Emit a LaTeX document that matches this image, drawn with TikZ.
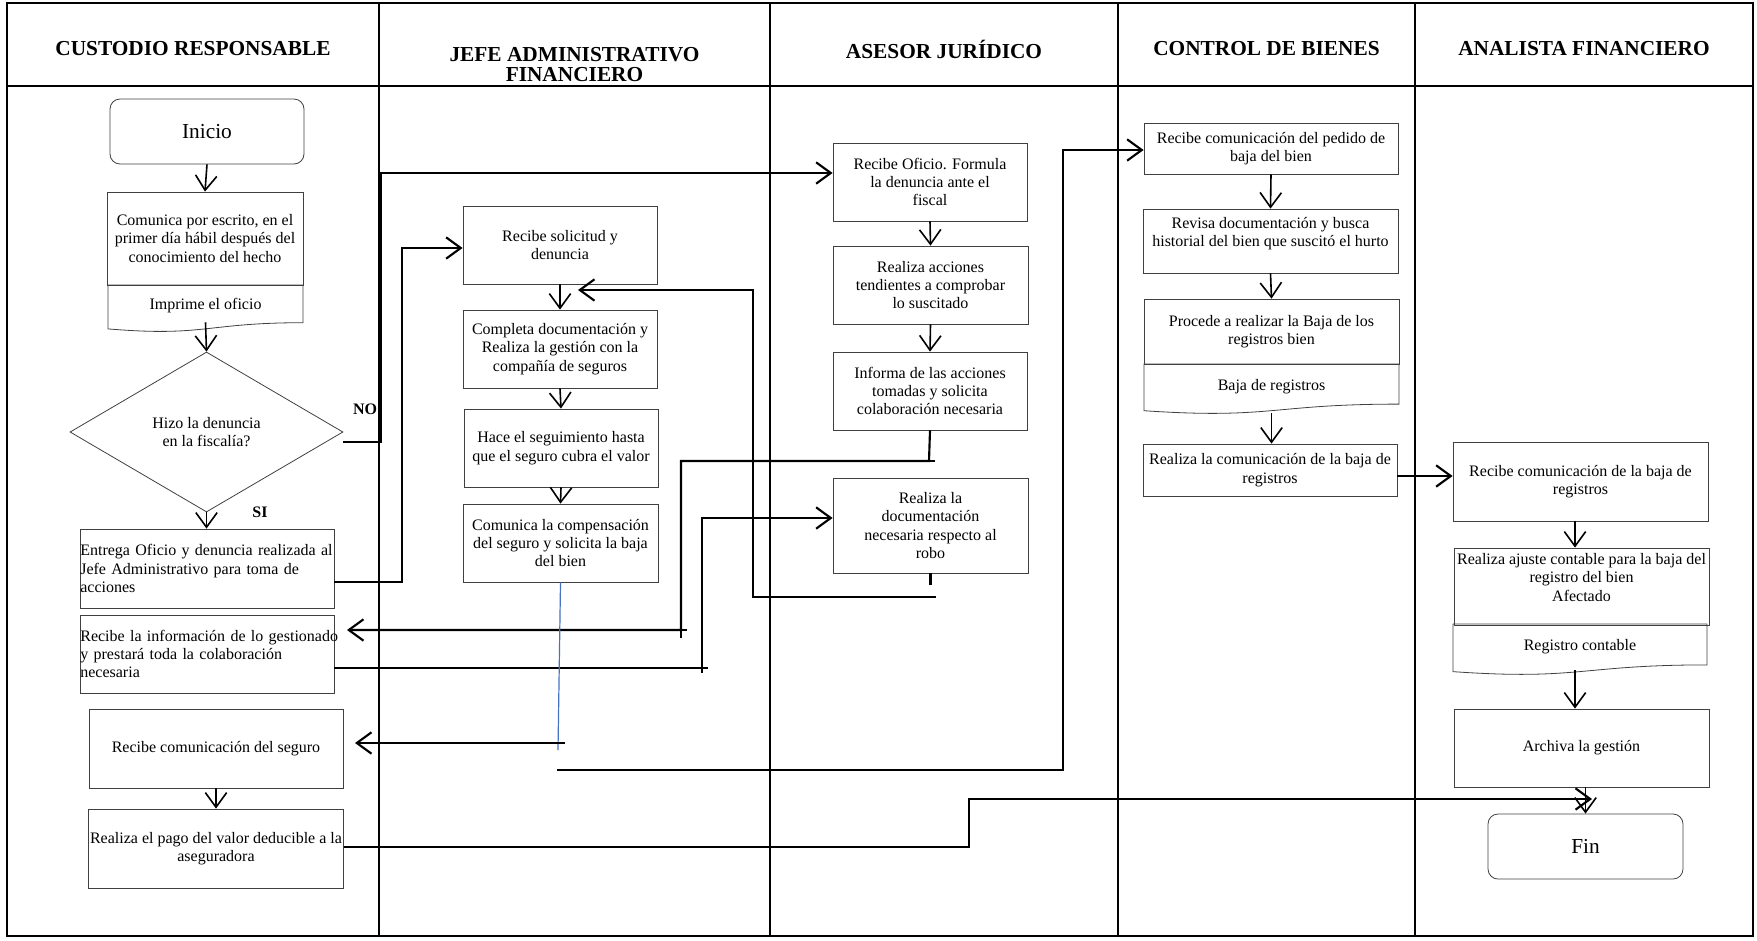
\documentclass[tikz,border=0pt]{standalone}
\usepackage{fontspec}
\setmainfont{Liberation Serif}
\usetikzlibrary{arrows.meta,shapes.geometric}

% process box given by its corners (in px units of the picture)
\newcommand{\pbox}[7][]{%
  \pgfmathsetmacro\bw{(#5-#3)*0.75}%
  \pgfmathsetmacro\bh{(#6-#4)*0.75}%
  \node[box,minimum width=\bw pt,minimum height=\bh pt,#1] (#2) at ({(#3+#5)/2},{(#4+#6)/2}) {#7};}

% outline of a document symbol (wavy bottom)
\newcommand{\docpath}[4]{%
  \draw[boxline] (#1,#2) -- (#3,#2) -- (#3,{#2+0.802*(#4-#2)})
    .. controls ({(#1+#3)/2},{#2+0.802*(#4-#2)}) and ({(#1+#3)/2},{#2+1.107*(#4-#2)}) .. (#1,{#2+0.934*(#4-#2)}) -- cycle;}

\begin{document}
\begin{tikzpicture}[x=0.75pt,y=-0.75pt,
  lane/.style={line width=1.5pt,draw=black},
  boxline/.style={draw=black!75,line width=0.6pt},
  box/.style={boxline,align=center,inner xsep=1pt,inner ysep=1pt,font=\fontsize{12}{13.8}\selectfont},
  leftbox/.style={align=left,text width=190pt,inner xsep=0.3pt},
  plain/.style={align=center,inner sep=0pt,font=\fontsize{12}{13.8}\selectfont},
  term/.style={box,rounded corners=7.5pt,font=\fontsize{16}{18}\selectfont},
  hdr/.style={align=center,inner sep=0pt,font=\fontsize{16}{15}\selectfont\bfseries},
  lbl/.style={inner sep=0pt,font=\fontsize{12}{13.8}\selectfont\bfseries},
  flow/.style={line width=1.2pt,-{Straight Barb[length=11pt,width=16pt]}},
  link/.style={line width=1.6pt},
  linkarr/.style={link,-{Straight Barb[length=11pt,width=16pt]}},
  blueline/.style={line width=0.9pt,draw={rgb,255:red,68;green,114;blue,196}}]

\useasboundingbox (0,0) rectangle (1757,940);

% swimlane frame
\draw[lane] (7,3) rectangle (1753,936);
\draw[lane] (7,86) -- (1753,86);
\foreach \xx in {379,770,1118,1415} \draw[lane] (\xx,3) -- (\xx,936);

% lane headers
\node[hdr] (h1) at (193,49) {CUSTODIO RESPONSABLE};
\node[hdr] (h2) at (574.5,65) {JEFE ADMINISTRATIVO\\FINANCIERO};
\node[hdr] (h3) at (944,49) {ASESOR JURÍDICO};
\node[hdr] (h4) at (1266.5,49) {CONTROL DE BIENES};
\node[hdr] (h5) at (1584,49) {ANALISTA FINANCIERO};

% --- Custodio responsable
\pbox[term]{inicio}{110}{99}{304}{164}{Inicio}
\pbox{comunica}{107}{192}{303}{285}{Comunica por escrito, en el\\primer día hábil después del\\conocimiento del hecho}
\docpath{108}{285}{303}{332}
\node[plain,minimum height=24pt] (imprime) at (205.5,306) {Imprime el oficio};
\node[diamond,boxline,minimum width=204.75pt,minimum height=120pt,inner sep=0pt,aspect=1.7,
      align=center,font=\fontsize{12}{13.8}\selectfont] (dec) at (206.5,432) {Hizo la denuncia\\en la fiscalía?};
\node[lbl] (no) at (365,409) {NO};
\node[lbl] (si) at (260,512) {SI};
\pbox[leftbox]{entrega}{80}{529}{334}{608}{\mbox{Entrega Oficio y denuncia realizada al}\\\mbox{Jefe Administrativo para toma de}\\\mbox{acciones}}
\pbox[leftbox]{recinfo}{80}{615}{334}{693}{\mbox{Recibe la información de lo gestionado}\\\mbox{y prestará toda la colaboración}\\\mbox{necesaria}}
\pbox{recseg}{89}{709}{343}{788}{Recibe comunicación del seguro}
\pbox{pago}{89}{809}{343}{888}{Realiza el pago del valor deducible a la\\aseguradora}

% --- Jefe administrativo financiero
\pbox{recsol}{463}{206}{657}{284}{Recibe solicitud y\\denuncia}
\pbox{completa}{463}{310}{657}{388}{Completa documentación y\\Realiza la gestión con la\\compañía de seguros}
\pbox{hace}{464}{409}{658}{487}{Hace el seguimiento hasta\\que el seguro cubra el valor}
\pbox{comcomp}{463}{504}{658}{582}{Comunica la compensación\\del seguro y solicita la baja\\del bien}

% --- Asesor jurídico
\pbox{rof}{833}{143}{1027}{221}{Recibe Oficio. Formula\\la denuncia ante el\\fiscal}
\pbox{racc}{833}{246}{1028}{324}{Realiza acciones\\tendientes a comprobar\\lo suscitado}
\pbox{inf}{833}{352}{1027}{430}{Informa de las acciones\\tomadas y solicita\\colaboración necesaria}
\pbox{rdoc}{833}{478}{1028}{573}{Realiza la\\documentación\\necesaria respecto al\\robo}

% --- Control de bienes
\pbox{rped}{1144}{123}{1398}{174}{Recibe comunicación del pedido de\\baja del bien}
\pbox{rev}{1143}{209}{1398}{273}{Revisa documentación y busca\\historial del bien que suscitó el hurto\\\mbox{}}
\pbox{proc}{1144}{299}{1399}{364}{Procede a realizar la Baja de los\\registros bien}
\docpath{1144}{364}{1399}{414}
\node[plain,minimum height=39pt] (bajareg) at (1271.5,387) {Baja de registros};
\pbox{rcom}{1143}{444}{1397}{496}{Realiza la comunicación de la baja de\\registros}

% --- Analista financiero
\pbox{rbaja}{1453}{442}{1708}{521}{Recibe comunicación de la baja de\\registros}
\pbox{ajuste}{1454}{548}{1709}{625}{Realiza ajuste contable para la baja del\\registro del bien\\Afectado\\\mbox{}}
\docpath{1453}{624}{1707}{675}
\node[plain,minimum height=34.5pt] (regcont) at (1580,647) {Registro contable};
\pbox{archiva}{1454}{709}{1709}{787}{Archiva la gestión}
\pbox[term]{fin}{1488}{814}{1683}{879}{Fin}

% --- arrows inside the lanes
\draw[flow] (inicio.south) -- (comunica.north);
\draw[flow] (imprime.south) -- (dec.north);
\draw[flow] (dec.south) -- (entrega.north -| dec.south);
\draw[flow] (recseg.south) -- (pago.north);
\draw[flow] (recsol.south) -- (completa.north);
\draw[flow] (completa.south) -- (hace.north);
\draw[flow] (hace.south) -- (comcomp.north);
\draw[flow] (rof.south) -- (racc.north);
\draw[flow] (racc.south) -- (inf.north);
\draw[flow] (rped.south) -- (rev.north);
\draw[flow] (rev.south) -- (proc.north);
\draw[flow] (bajareg.south) -- (rcom.north -| bajareg.south);
\coordinate (a1) at (1575,521);
\draw[flow] (a1) -- (ajuste.north -| a1);
\coordinate (a2) at (1575,670);
\draw[flow] (a2) -- (archiva.north -| a2);
\draw[flow] (archiva.south -| fin.north) -- (fin.north);

% --- connectors between the lanes
% NO branch
\coordinate (n0) at (343,442);
\coordinate (n1) at (381,442);
\coordinate (n2) at (381,173);
\draw[linkarr] (n0) -- (n1) -- (n2) -- (rof.west |- n2);
% delivery to the administrative head
\coordinate (e1) at (402,582);
\coordinate (e2) at (402,248);
\draw[linkarr] (entrega.east |- e1) -- (e1) -- (e2) -- (recsol.west |- e2);
% report back to the custodian
\coordinate (i1) at (929,461);
\coordinate (i2) at (681,461);
\coordinate (i3) at (681,630);
\coordinate (i4) at (347,630);
\draw[linkarr] (inf.south) -- (i1) -- (i2) -- (i3) -- (i4);
\draw[link] (i1) -- ++(6,0);
\draw[link] (i3) -- ++(0,8);
\draw[link] (i3) -- ++(6,0);
% collaboration towards the legal advisor
\coordinate (c1) at (702,668);
\coordinate (c2) at (702,518);
\draw[linkarr] (recinfo.east |- c1) -- (c1) -- (c2) -- (rdoc.west |- c2);
\draw[link] (c1) -- ++(6,0);
\draw[link] (c1) -- ++(0,5);
% documentation returned to the administrative head
\draw[link] (rdoc.south) -- ++(0,12);
\coordinate (d0) at (936,597);
\coordinate (d1) at (753,597);
\coordinate (d2) at (753,290);
\coordinate (d3) at (578,290);
\draw[linkarr] (d0) -- (d1) -- (d2) -- (d3);
% insurance compensation
\coordinate (s0) at (558,750);
\draw[blueline] (comcomp.south) -- (s0);
\coordinate (s1) at (565,743);
\coordinate (s2) at (355,743);
\draw[linkarr] (s1) -- (s2);
% request to write off the asset
\coordinate (b0) at (557,770);
\coordinate (b1) at (1063,770);
\coordinate (b2) at (1063,150);
\draw[linkarr] (b0) -- (b1) -- (b2) -- (rped.west |- b2);
% write-off notice to the analyst
\coordinate (r0) at (1397,476);
\draw[linkarr] (r0) -- (rbaja.west |- r0);
% deductible payment
\coordinate (p1) at (969,847);
\coordinate (p2) at (969,799);
\coordinate (p3) at (1592,799);
\draw[linkarr] (pago.east |- p1) -- (p1) -- (p2) -- (p3);

\end{tikzpicture}
\end{document}
